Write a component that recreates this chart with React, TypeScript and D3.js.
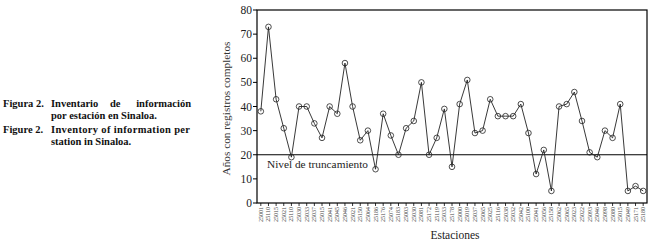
import React from "react";
import * as d3 from "d3";

const stations = [
  "25001","25110","25015","25021","25110","25030","25033","25037","25015","25041",
  "25045","25046","25021","25150","25064","25186","25176","25074","25183","25003",
  "25030","25081","25172","25119","25033","25178","25000","25019","25037","25065",
  "25025","25116","25038","25032","25042","25100","25041","25056","25158","25062",
  "25065","25023","25022","25093","25046","25098","25080","25015","25049","25171","25180",
];
const years = [
  38,73,43,31,19,40,40,33,27,40,
  37,58,40,26,30,14,37,28,20,31,
  34,50,20,27,39,15,41,51,29,30,
  43,36,36,36,41,29,12,22,5,40,
  41,46,34,21,19,30,27,41,5,7,5,
];
const yTicks = [0, 10, 20, 30, 40, 50, 60, 70, 80];
const threshold = 20;

const serif = '"Liberation Serif", "DejaVu Serif", "Times New Roman", serif';

export default function App() {
  const W = 654, H = 242;
  const left = 257, right = 647, top = 10, bottom = 203;
  const idx = stations.map((_, i) => i);
  const x = d3.scaleBand<number>().domain(idx).range([left, right]);
  const y = d3.scaleLinear().domain([0, 80]).range([bottom, top]);
  const cx = (i: number) => (x(i) as number) + x.bandwidth() / 2;
  const line = d3.line<number>().x((_, i) => cx(i)).y((d) => y(d));

  return (
    <svg width={W} height={H} style={{ position: "absolute", left: 0, top: 0, background: "#fff", fontFamily: serif }}>
      {/* caption */}
      <g fontWeight="bold" fontSize={10.5} fill="#111">
        <text x={3} y={107}>Figura 2.</text>
        <text x={51} y={107}>Inventario</text>
        <text x={110} y={107}>de</text>
        <text x={191} y={107} textAnchor="end">información</text>
        <text x={51} y={118.5}>por estación en Sinaloa.</text>
        <text x={3} y={133}>Figure 2.</text>
        <text x={51} y={133} textLength={139} lengthAdjust="spacing">Inventory of information per</text>
        <text x={51} y={144.5}>station in Sinaloa.</text>
      </g>

      {/* frame */}
      <rect x={left} y={top} width={right - left} height={bottom - top} fill="none" stroke="#000" strokeWidth={1.2} />

      {/* y axis ticks */}
      {yTicks.map((t) => (
        <g key={t}>
          <line x1={left - 4} x2={left} y1={y(t)} y2={y(t)} stroke="#000" strokeWidth={1} />
          <text x={left - 5} y={y(t)} dy="0.35em" textAnchor="end" fontSize={11.5} fill="#222">{t}</text>
        </g>
      ))}
      <text transform={`translate(230,${(top + bottom) / 2 + 2}) rotate(-90)`} textAnchor="middle" fontSize={11.3} fill="#333">
        Años con registros completos
      </text>

      {/* x axis ticks and labels */}
      {idx.map((i) => (
        <g key={i}>
          <line x1={cx(i)} x2={cx(i)} y1={bottom} y2={bottom + 3} stroke="#000" strokeWidth={0.8} />
          <text transform={`translate(${cx(i) + 2},${bottom + 4}) rotate(-90)`} textAnchor="end" fontSize={6} fill="#444">
            {stations[i]}
          </text>
        </g>
      ))}
      <text x={(left + right) / 2 + 3} y={239} textAnchor="middle" fontSize={11.5} fill="#222">Estaciones</text>

      {/* threshold */}
      <line x1={left} x2={right} y1={y(threshold)} y2={y(threshold)} stroke="#000" strokeWidth={1.2} />
      <text x={267} y={168} fontSize={11.3} fill="#222">Nivel de truncamiento</text>

      {/* series */}
      <path d={line(years) || ""} fill="none" stroke="#222" strokeWidth={0.9} />
      {years.map((v, i) => (
        <circle key={i} cx={cx(i)} cy={y(v)} r={2.8} fill="none" stroke="#222" strokeWidth={0.8} />
      ))}
    </svg>
  );
}
